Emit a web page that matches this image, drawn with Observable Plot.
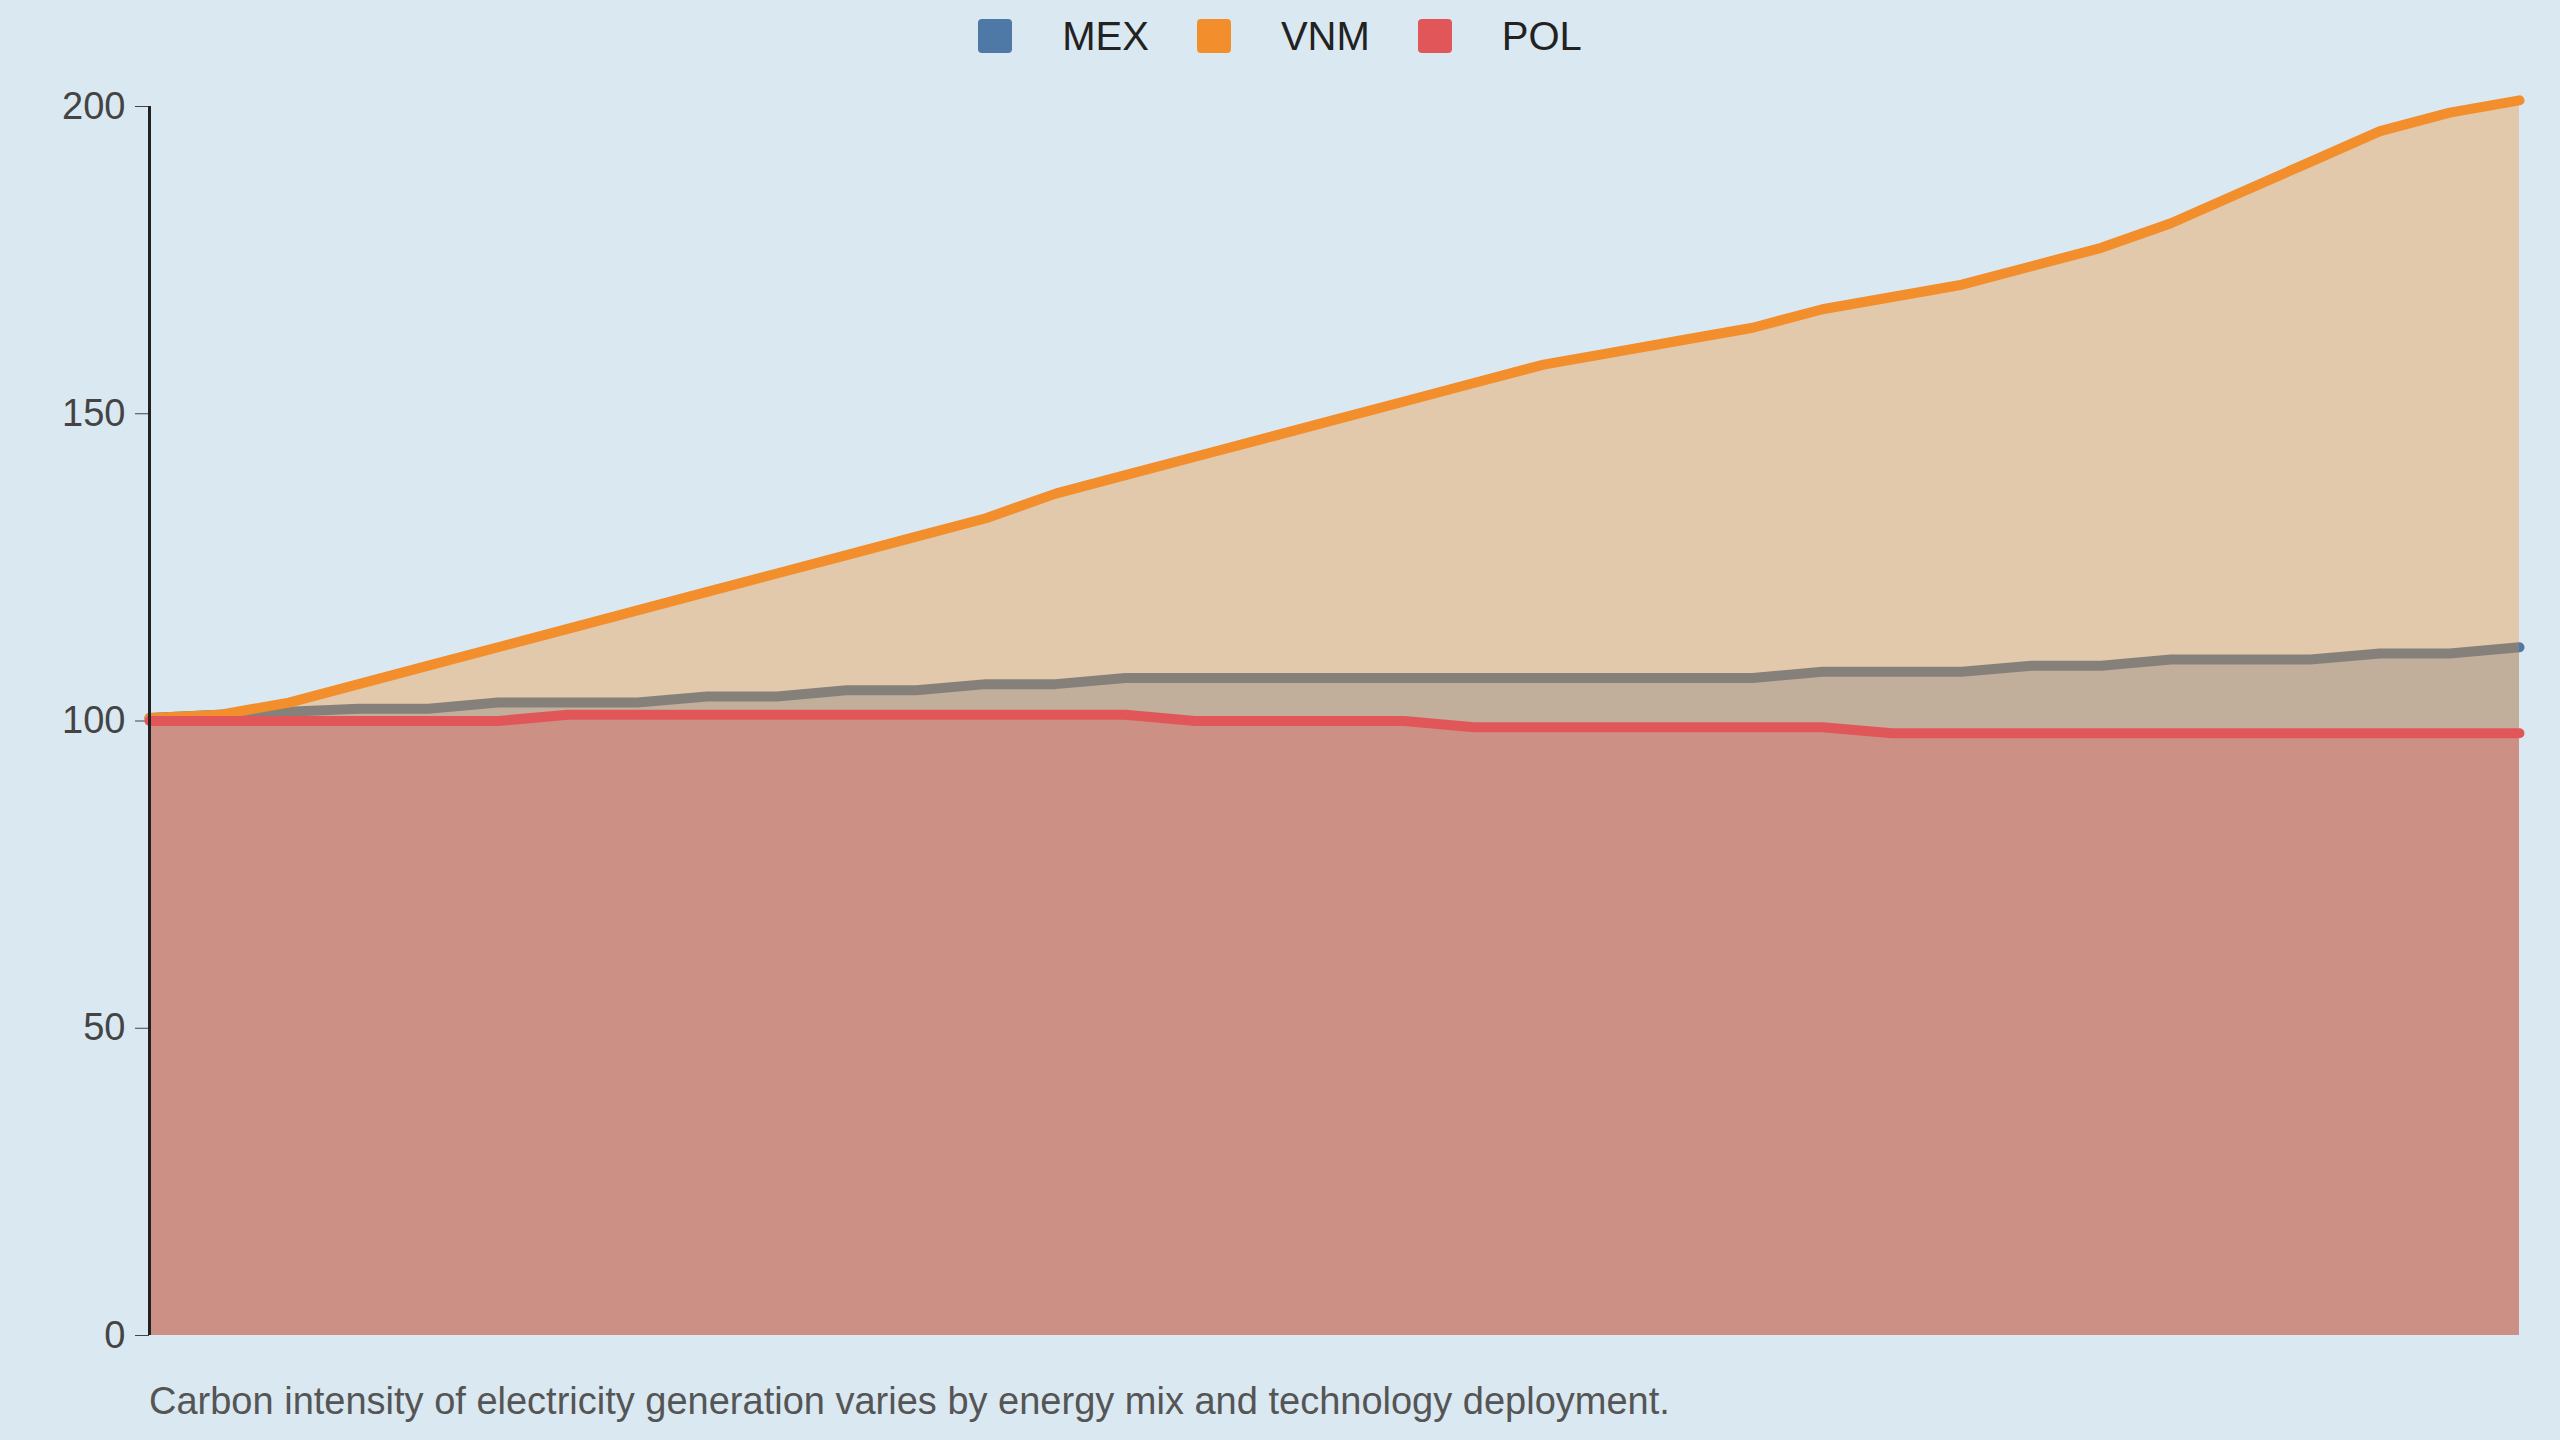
<!DOCTYPE html>
<html><head><meta charset="utf-8">
<script src="https://cdn.jsdelivr.net/npm/d3@7"></script>
<script src="https://cdn.jsdelivr.net/npm/@observablehq/plot@0.6"></script>
<style>
body{margin:0;background:#dae8f1;font-family:"Liberation Sans",Arial,sans-serif;width:2560px;height:1440px;overflow:hidden}
#legend{height:72px;display:flex;justify-content:center;align-items:center;gap:0;font-size:40px;color:#222}
.item{display:flex;align-items:center;margin:0 24px}
.sw{width:34px;height:34px;border-radius:4px;margin-right:50px}
#cap{position:absolute;left:149px;top:1380px;font-size:38px;color:#555}
</style></head><body>
<div id="legend"></div>
<div id="chart"></div>
<div id="cap">Carbon intensity of electricity generation varies by energy mix and technology deployment.</div>
<script>
const series = ["MEX","VNM","POL"];
const colors = ["#4e79a7","#f28e2b","#e15759"];
const MEX = [100.5,101,101.5,102,102,103,103,103,104,104,105,105,106,106,107,107,107,107,107,107,107,107,107,107,108,108,108,109,109,110,110,110,111,111,112];
const VNM = [100.5,101,103,106,109,112,115,118,121,124,127,130,133,137,140,143,146,149,152,155,158,160,162,164,167,169,171,174,177,181,186,191,196,199,201];
const POL = [100,100,100,100,100,100,101,101,101,101,101,101,101,101,101,100,100,100,100,99,99,99,99,99,99,98,98,98,98,98,98,98,98,98,98];
const vals = {MEX, VNM, POL};
const lg = document.getElementById("legend");
series.forEach((s,i)=>{lg.innerHTML += `<div class="item"><div class="sw" style="background:${colors[i]}"></div>${s}</div>`;});
const marks = [];
series.forEach((s,i)=>{
  const d = vals[s].map((v,j)=>({x:j,y:v}));
  marks.push(Plot.areaY(d,{x:"x",y:"y",fill:colors[i],fillOpacity:0.35}));
  marks.push(Plot.lineY(d,{x:"x",y:"y",stroke:colors[i],strokeWidth:10}));
});
const chart = Plot.plot({
  width:2560,height:1300,marginTop:34,marginBottom:37,marginLeft:149,marginRight:41,
  style:{background:"transparent",fontSize:"38px",fontFamily:"Liberation Sans, Arial, sans-serif",color:"#444"},
  x:{axis:null,domain:[0,34]},
  y:{domain:[0,200],ticks:[0,50,100,150,200],label:null,tickSize:14,tickPadding:10},
  marks:[...marks, Plot.ruleX([0],{stroke:"#222",strokeWidth:3})]
});
document.getElementById("chart").appendChild(chart);
</script></body></html>
